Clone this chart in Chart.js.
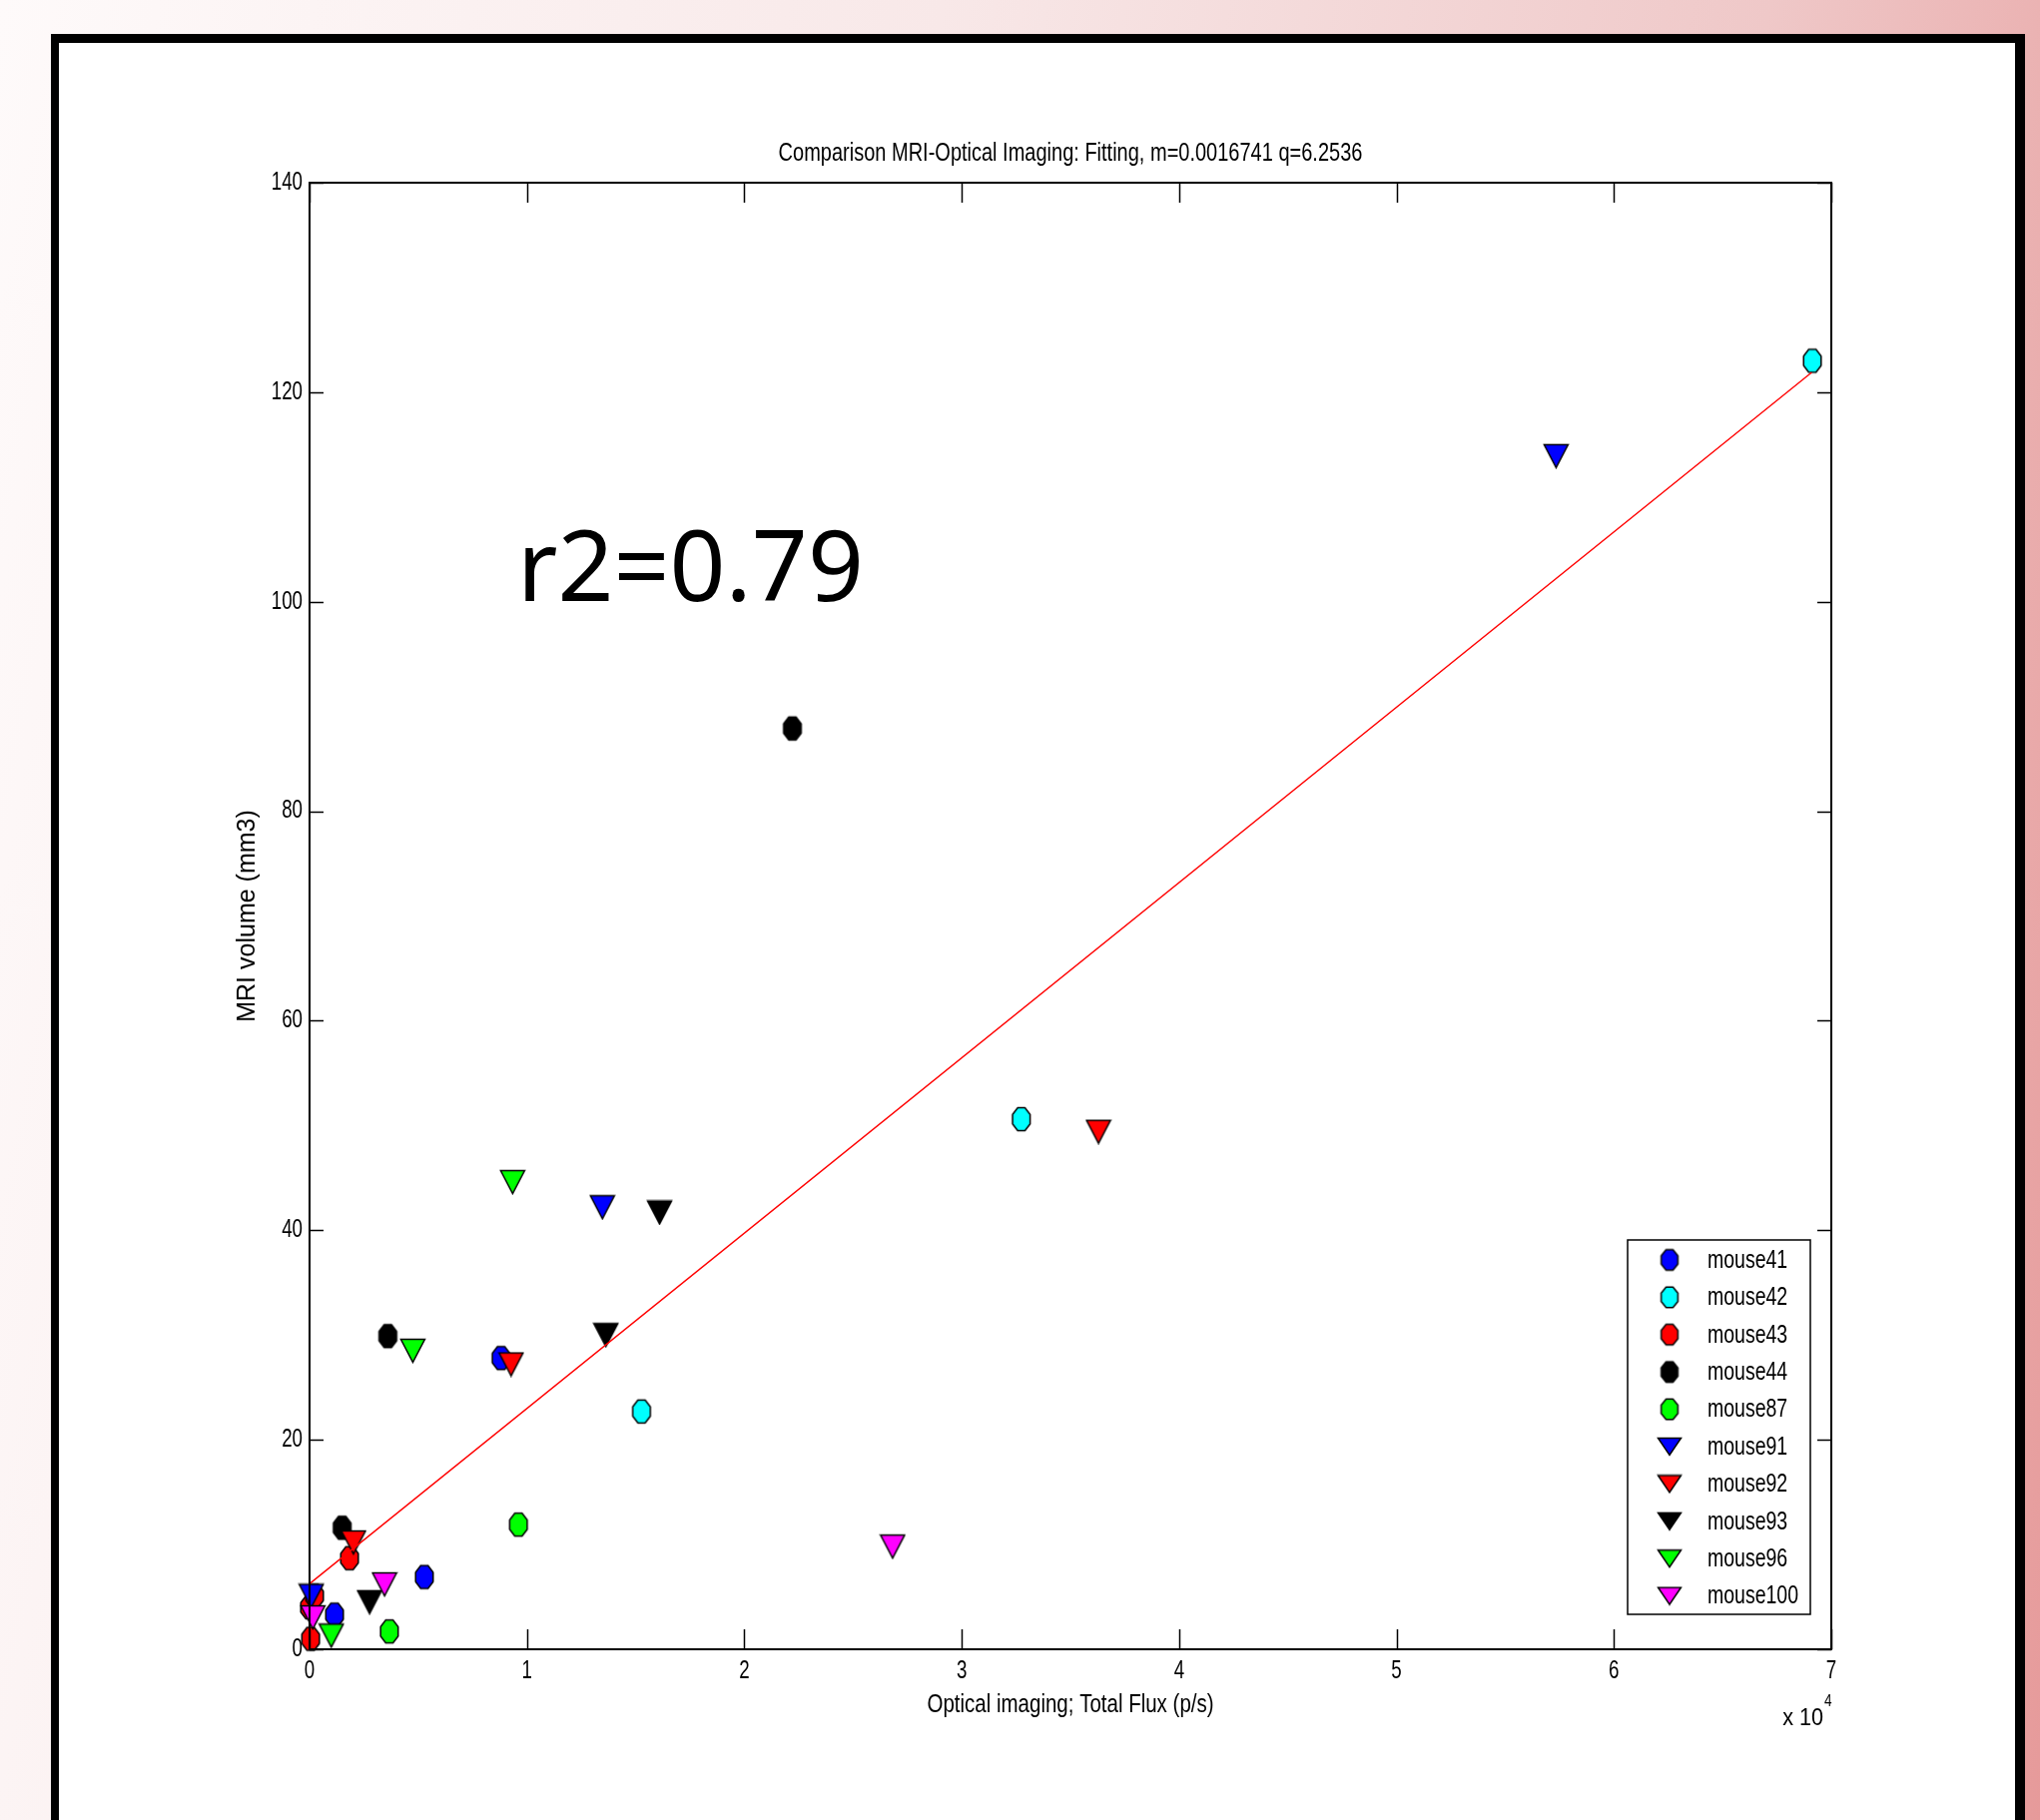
<!DOCTYPE html>
<html>
<head>
<meta charset="utf-8">
<script src="https://cdn.jsdelivr.net/npm/chart.js@4.4.1/dist/chart.umd.min.js"></script>
<style>
  html, body { margin: 0; padding: 0; width: 2043px; height: 1823px; overflow: hidden; }
  body { position: relative; background: linear-gradient(100deg, #fefafa 0%, #f8e8e8 40%, #efc8c8 75%, #e69a9a 100%); }
  #panel { position: absolute; left: 51px; top: 34px; width: 1959px; height: 1850px; background: #fff;
           border-left: 8px solid #000; border-top: 9px solid #000; border-right: 10px solid #000; }
  #chart { position: absolute; left: 0; top: 0; }
</style>
</head>
<body>
<div id="panel"></div>
<canvas id="chart" width="2043" height="1823"></canvas>
<script>
// series (x in units of 1e4 p/s, y in mm3)
const seriesNames = ['mouse41','mouse42','mouse43','mouse44','mouse87','mouse91','mouse92','mouse93','mouse96','mouse100'];
const seriesColors = ['#0000ff','#00ffff','#ff0000','#000000','#00ff00','#0000ff','#ff0000','#000000','#00ff00','#ff00ff'];
const seriesMarkers = ['o','o','o','o','o','v','v','v','v','v'];

const x41 = [0.881, 0.528, 0.115],        y41 = [27.8, 6.9, 3.3];
const x42 = [6.913, 3.274, 1.527],        y42 = [123.0, 50.6, 22.7];
const x43 = [0.0, 0.023, 0.184, 0.005],   y43 = [4.0, 5.1, 8.7, 1.0];
const x44 = [2.221, 0.36, 0.150],         y44 = [87.9, 29.9, 11.6];
const x87 = [0.961, 0.367],               y87 = [11.9, 1.7];
const x91 = [5.734, 1.347, 0.008],        y91 = [113.9, 42.2, 5.1];
const x92 = [3.629, 0.927, 0.202],        y92 = [49.4, 27.2, 10.2];
const x93 = [1.61, 1.363, 0.276],         y93 = [41.7, 30.0, 4.5];
const x96 = [0.934, 0.475, 0.1],          y96 = [44.6, 28.5, 1.3];
const x100 = [2.682, 0.345, 0.015],       y100 = [9.8, 6.2, 3.05];

const seriesX = [x41, x42, x43, x44, x87, x91, x92, x93, x96, x100];
const seriesY = [y41, y42, y43, y44, y87, y91, y92, y93, y96, y100];

// fitted line endpoints
const fitX = [0, 6.91];
const fitY = [6.25, 121.9];

const xTicks = [0, 7, 1];
const yTicks = [0, 140, 20];
const titleText = 'Comparison MRI-Optical Imaging: Fitting, m=0.0016741 q=6.2536';
const xTitle = 'Optical imaging; Total Flux (p/s)';
const yTitle = 'MRI volume (mm3)';
const r2Text = 'r2=0.79';

const sans = '"Liberation Sans", Arial, sans-serif';

function octagon(color, rx, ry) {
  const c = document.createElement('canvas');
  c.width = Math.ceil(rx * 2 + 3); c.height = Math.ceil(ry * 2 + 3);
  const g = c.getContext('2d');
  g.beginPath();
  for (let k = 0; k < 8; k++) {
    const a = Math.PI / 8 + k * Math.PI / 4;
    const px = c.width / 2 + rx * Math.cos(a), py = c.height / 2 + ry * Math.sin(a);
    if (k) g.lineTo(px, py); else g.moveTo(px, py);
  }
  g.closePath();
  g.fillStyle = color; g.fill();
  g.lineWidth = 1.5; g.strokeStyle = '#000'; g.stroke();
  return c;
}

function triangle(color, w, h) {
  const c = document.createElement('canvas');
  c.width = w + 3; c.height = h + 3;
  const g = c.getContext('2d');
  g.beginPath();
  g.moveTo(1.5, 1.5); g.lineTo(w + 1.5, 1.5); g.lineTo(w / 2 + 1.5, h + 1.5);
  g.closePath();
  g.fillStyle = color; g.fill();
  g.lineWidth = 1.5; g.strokeStyle = '#000'; g.stroke();
  return c;
}

function marker(i, small) {
  if (seriesMarkers[i] === 'o') return small ? octagon(seriesColors[i], 9, 11) : octagon(seriesColors[i], 9.5, 12.5);
  return small ? triangle(seriesColors[i], 23, 17) : triangle(seriesColors[i], 24, 23);
}

const datasets = seriesNames.map((name, i) => ({
  label: name,
  data: seriesX[i].map((v, j) => ({ x: v, y: seriesY[i][j] })),
  pointStyle: marker(i, false),
  pointRadius: 12,
  pointHoverRadius: 12,
  order: -i,
  clip: false
}));
datasets.push({
  label: 'fit',
  data: fitX.map((v, j) => ({ x: v, y: fitY[j] })),
  showLine: true,
  borderColor: '#ff0000',
  borderWidth: 1.4,
  pointRadius: 0,
  order: -100,
  clip: false
});

const legendIcons = seriesNames.map((n, i) => marker(i, true));

// MATLAB text looks horizontally squeezed in the reference
function squeezed(ctx, text, x, y, sx, align) {
  ctx.save();
  ctx.translate(x, y);
  ctx.scale(sx, 1);
  ctx.textAlign = align;
  ctx.fillText(text, 0, 0);
  ctx.restore();
}

const frame = {
  id: 'frame',
  afterDatasetsDraw(chart) {
    const { ctx, chartArea: a, scales: { x, y } } = chart;
    ctx.save();
    ctx.strokeStyle = '#000';
    ctx.lineWidth = 2;
    ctx.strokeRect(a.left, a.top, a.right - a.left, a.bottom - a.top);
    ctx.lineWidth = 1.5;
    ctx.beginPath();
    x.ticks.forEach(t => {
      const px = Math.round(x.getPixelForValue(t.value)) + 0.5;
      ctx.moveTo(px, a.bottom); ctx.lineTo(px, a.bottom - 20);
      ctx.moveTo(px, a.top); ctx.lineTo(px, a.top + 20);
    });
    y.ticks.forEach(t => {
      const py = Math.round(y.getPixelForValue(t.value)) + 0.5;
      ctx.moveTo(a.left, py); ctx.lineTo(a.left + 14, py);
      ctx.moveTo(a.right, py); ctx.lineTo(a.right - 14, py);
    });
    ctx.stroke();
    ctx.restore();
  },
  afterDraw(chart) {
    const { ctx, chartArea: a, scales: { x, y } } = chart;
    const cx = (a.left + a.right) / 2;
    ctx.save();
    ctx.fillStyle = '#000';
    ctx.textBaseline = 'middle';

    // tick labels
    ctx.font = '25px ' + sans;
    x.ticks.forEach(t => squeezed(ctx, String(t.value), x.getPixelForValue(t.value), a.bottom + 22, 0.75, 'center'));
    y.ticks.forEach(t => squeezed(ctx, String(t.value), a.left - 7, y.getPixelForValue(t.value), 0.75, 'right'));

    // titles
    squeezed(ctx, titleText, cx, 154, 0.8, 'center');
    squeezed(ctx, xTitle, cx, 1708, 0.82, 'center');
    ctx.save();
    ctx.translate(248, (a.top + a.bottom) / 2);
    ctx.rotate(-Math.PI / 2);
    ctx.textAlign = 'center';
    ctx.fillText(yTitle, 0, 0);
    ctx.restore();

    // x 10^4
    ctx.font = '24px ' + sans;
    squeezed(ctx, 'x 10', a.right - 8, 1721, 0.9, 'right');
    ctx.font = '17px ' + sans;
    squeezed(ctx, '4', a.right - 7, 1704, 0.8, 'left');

    // r2 label
    ctx.font = '98px "Noto Sans", "Open Sans", sans-serif';
    ctx.textBaseline = 'alphabetic';
    ctx.textAlign = 'left';
    ctx.fillText(r2Text, x.getPixelForValue(0.955), y.getPixelForValue(100.1));

    // legend
    const lx = 1630, ly = 1242, lw = 183, lh = 375;
    ctx.fillStyle = '#fff';
    ctx.fillRect(lx, ly, lw, lh);
    ctx.strokeStyle = '#000';
    ctx.lineWidth = 1.5;
    ctx.strokeRect(lx, ly, lw, lh);
    ctx.font = '25px ' + sans;
    ctx.textBaseline = 'middle';
    ctx.fillStyle = '#000';
    seriesNames.forEach((name, i) => {
      const ry = ly + 20 + i * 37.4;
      const ic = legendIcons[i];
      ctx.drawImage(ic, 1672 - ic.width / 2, ry - ic.height / 2);
      squeezed(ctx, name, 1710, ry + 1, 0.78, 'left');
    });
    ctx.restore();
  }
};

new Chart(document.getElementById('chart'), {
  type: 'scatter',
  data: { datasets },
  options: {
    responsive: false,
    animation: false,
    layout: { padding: { left: 230, right: 209, top: 183, bottom: 98 } },
    plugins: {
      legend: { display: false },
      tooltip: { enabled: false },
      title: { display: false }
    },
    scales: {
      x: {
        type: 'linear', min: xTicks[0], max: xTicks[1],
        ticks: { stepSize: xTicks[2], display: false },
        grid: { display: false, drawTicks: false },
        border: { display: false },
        afterFit: s => { s.height = 73; }
      },
      y: {
        type: 'linear', min: yTicks[0], max: yTicks[1],
        ticks: { stepSize: yTicks[2], display: false },
        grid: { display: false, drawTicks: false },
        border: { display: false },
        afterFit: s => { s.width = 80; }
      }
    }
  },
  plugins: [frame]
});
</script>
</body>
</html>
